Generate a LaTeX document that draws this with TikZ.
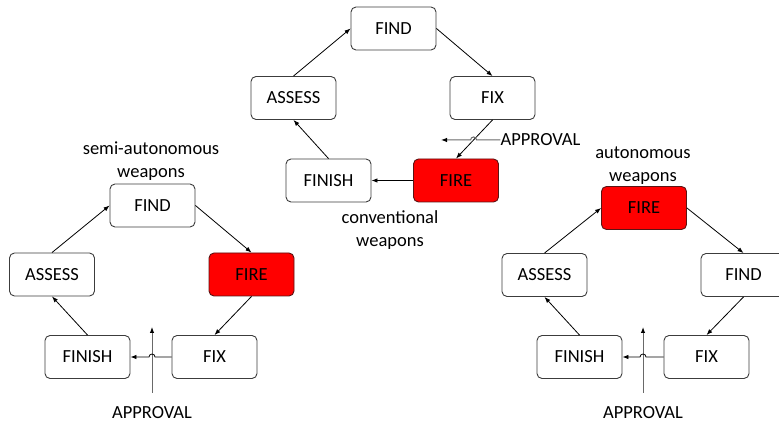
\documentclass[tikz,border=0pt]{standalone}
\usepackage{fontspec}
\setmainfont{Carlito}
\usetikzlibrary{arrows.meta}
\definecolor{boxline}{RGB}{60,60,60}
\definecolor{fireline}{RGB}{90,20,20}
\definecolor{aprgray}{RGB}{105,105,105}
\tikzset{
  stage/.style={rectangle,rounded corners=5pt,draw=boxline,line width=0.9pt,
    minimum width=85pt,minimum height=43pt,inner sep=0pt,
    font=\fontsize{18.5}{22}\selectfont},
  firebox/.style={stage,fill=red,draw=fireline},
  lbl/.style={inner sep=0pt,align=center,font=\fontsize{18.5}{23}\selectfont},
  arr/.style={-{Latex[length=6pt,width=4.5pt]},line width=0.8pt,black},
  aprline/.style={-{Latex[length=6pt,width=4.5pt,color=black,fill=black]},line width=1pt,draw=aprgray}
}
\begin{document}
\begin{tikzpicture}[x=1pt,y=1pt]
\clip (0,0) rectangle (779,423);

% conventional weapons (top)
\node[stage] (findC) at (393.5,394.5){FIND};
\node[stage] (assessC) at (293.5,325){ASSESS};
\node[stage] (fixC) at (492.5,325){FIX};
\node[stage] (finishC) at (328.5,242.5){FINISH};
\node[firebox] (fireC) at (456,242.5){FIRE};
\node[lbl] (wpnC) at (390,193){conventional\\weapons};
\node[lbl] (aprC) at (540.5,283){APPROVAL};
\coordinate (aprCtip) at (441,283);

\path [arr] (assessC.north) edge (findC.west);
\path [arr] (findC.east) edge (fixC.north);
\path [arr] (fixC.south) edge (fireC.north);
\path [arr] (fireC.west) edge (finishC.east);
\path [arr] (finishC.north) edge (assessC.south);
\coordinate (hopC) at (intersection of fixC.south--fireC.north and aprC.west--aprCtip);
\draw [aprline] (aprC.west) -- ([xshift=3pt]hopC) arc[start angle=0,end angle=180,radius=3pt] -- (aprCtip);
%%%%%%%%

% semi-autonomous weapons (left)
\node[lbl] (wpnL) at (151,261.5){semi-autonomous\\weapons};
\node[stage] (findL) at (152.5,217.5){FIND};
\node[stage] (assessL) at (52,148.5){ASSESS};
\node[firebox] (fireL) at (251.5,148.5){FIRE};
\node[stage] (finishL) at (87.5,66){FINISH};
\node[stage] (fixL) at (214.5,66){FIX};
\node[lbl] (aprL) at (152,10){APPROVAL};
\coordinate (aprLbot) at (152,30);
\coordinate (aprLtop) at (152,96);

\path [arr] (assessL.north) edge (findL.west);
\path [arr] (findL.east) edge (fireL.north);
\path [arr] (fireL.south) edge (fixL.north);
\path [arr] (finishL.north) edge (assessL.south);
\draw [aprline] (aprLbot) -- (aprLtop);
\coordinate (hopL) at (aprLbot |- fixL.west);
\draw [arr] (fixL.west) -- ([xshift=3pt]hopL) arc[start angle=0,end angle=180,radius=3pt] -- (finishL.east);
%%%%%%%%

% autonomous weapons (right)
\node[lbl] (wpnR) at (643,257){autonomous\\weapons};
\node[firebox] (fireR) at (644,215){FIRE};
\node[stage] (assessR) at (544.5,148){ASSESS};
\node[stage] (findR) at (743.5,148){FIND};
\node[stage] (finishR) at (579.5,66){FINISH};
\node[stage] (fixR) at (706.5,66){FIX};
\node[lbl] (aprR) at (643,10){APPROVAL};
\coordinate (aprRbot) at (643,30);
\coordinate (aprRtop) at (643,96);

\path [arr] (assessR.north) edge (fireR.west);
\path [arr] (fireR.east) edge (findR.north);
\path [arr] (findR.south) edge (fixR.north);
\path [arr] (finishR.north) edge (assessR.south);
\draw [aprline] (aprRbot) -- (aprRtop);
\coordinate (hopR) at (aprRbot |- fixR.west);
\draw [arr] (fixR.west) -- ([xshift=3pt]hopR) arc[start angle=0,end angle=180,radius=3pt] -- (finishR.east);
\end{tikzpicture}
\end{document}
